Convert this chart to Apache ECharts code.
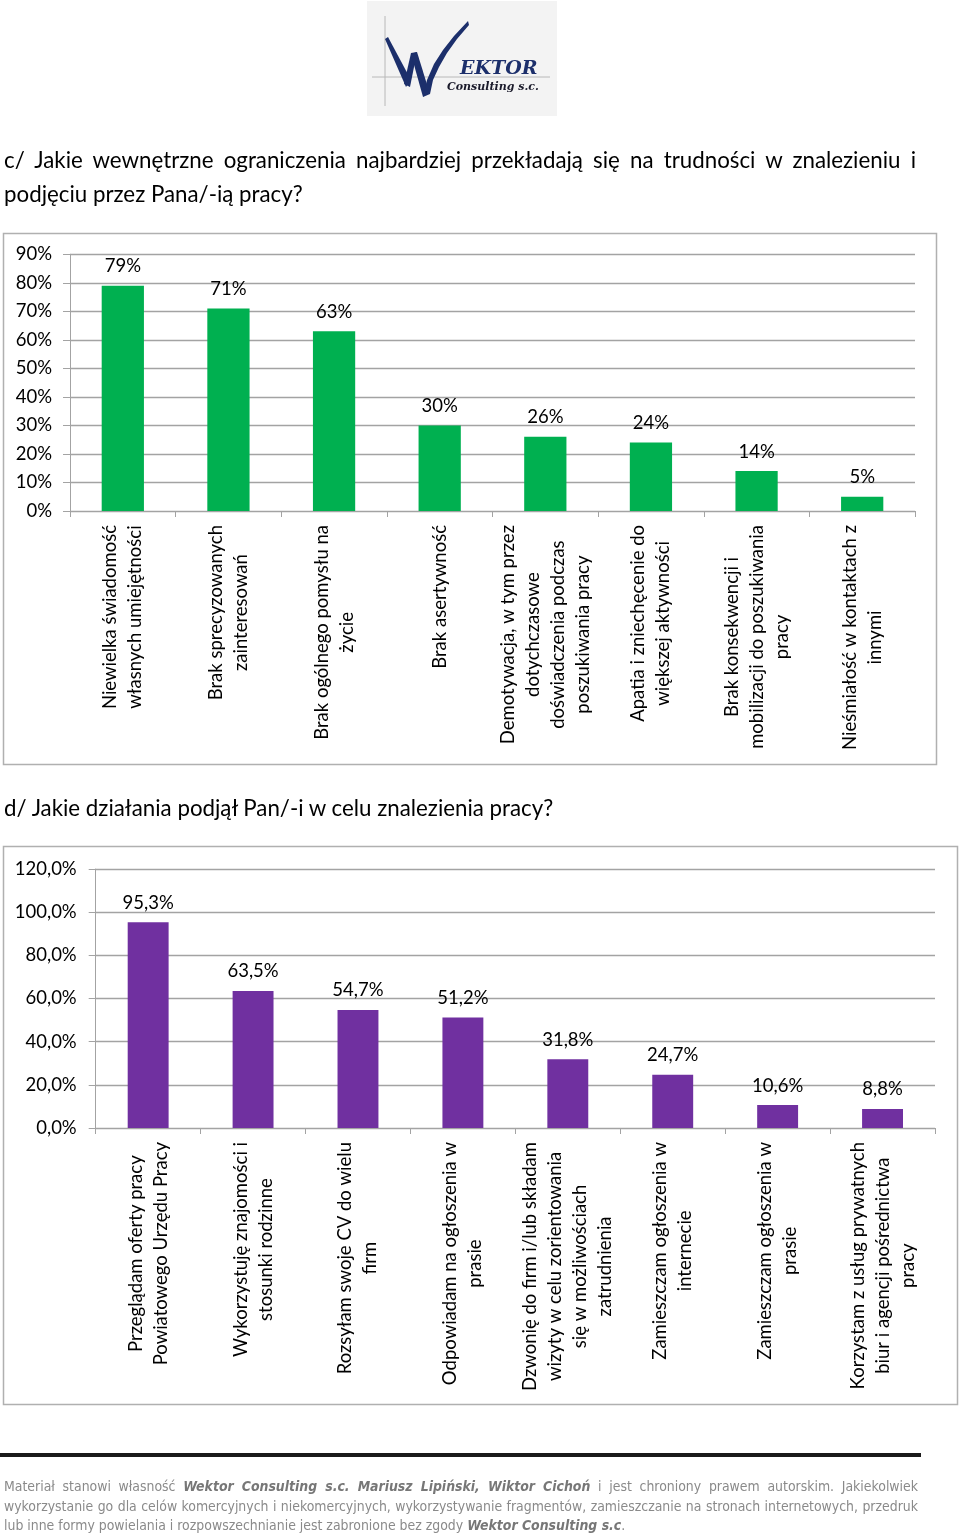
<!DOCTYPE html>
<html>
<head>
<meta charset="utf-8">
<script src="https://cdn.jsdelivr.net/npm/echarts@6/dist/echarts.min.js"></script>
<style>
  html, body { margin: 0; padding: 0; background: #fff; }
  #page { position: relative; width: 960px; height: 1537px; overflow: hidden; }
  #chart { position: absolute; left: 0; top: 0; width: 960px; height: 1537px; }
  .t { position: absolute; font-family: Lato, "Open Sans", sans-serif; color: #000; white-space: nowrap; }
  .just { text-align: justify; text-align-last: justify; white-space: normal; }
  .foot { position: absolute; left: 4px; width: 914px; font-family: "Liberation Sans Narrow", "DejaVu Sans Condensed", sans-serif; font-size: 13.9px; color: #8a8a8a; line-height: 19.5px; }
  .foot b { font-style: italic; color: #777; }
</style>
</head>
<body>
<div id="page">
  <div id="chart"></div>
  <div class="t just" style="left:4px; top:145px; width:912px; font-size:22.3px; line-height:30px;">c/ Jakie wewnętrzne ograniczenia najbardziej przekładają się na trudności w znalezieniu i</div>
  <div class="t" style="left:4px; top:179px; font-size:22.3px; line-height:30px;">podjęciu przez Pana/-ią pracy?</div>
  <div class="t" style="left:4px; top:793px; font-size:22.3px; line-height:30px;">d/ Jakie działania podjął Pan/-i w celu znalezienia pracy?</div>
  <div class="foot just" style="top:1477px;">Materiał stanowi własność <b>Wektor Consulting s.c. Mariusz Lipiński, Wiktor Cichoń</b> i jest chroniony prawem autorskim. Jakiekolwiek</div>
  <div class="foot just" style="top:1496.5px;">wykorzystanie go dla celów komercyjnych i niekomercyjnych, wykorzystywanie fragmentów, zamieszczanie na stronach internetowych, przedruk</div>
  <div class="foot" style="top:1516px; white-space:nowrap;">lub inne formy powielania i rozpowszechnianie jest zabronione bez zgody <b>Wektor Consulting s.c</b>.</div>
</div>
<script>
// ---- Data: chart c/ ----
const categoriesC = [
  "Niewielka świadomość\nwłasnych umiejętności",
  "Brak sprecyzowanych\nzainteresowań",
  "Brak ogólnego pomysłu na\nżycie",
  "Brak asertywność",
  "Demotywacja, w tym przez\ndotychczasowe\ndoświadczenia podczas\nposzukiwania pracy",
  "Apatia i zniechęcenie do\nwiększej aktywności",
  "Brak konsekwencji i\nmobilizacji do poszukiwania\npracy",
  "Nieśmiałość w kontaktach z\ninnymi"
];
const valuesC = [79, 71, 63, 30, 26, 24, 14, 5];
const yMaxC = 90, yStepC = 10;

// ---- Data: chart d/ ----
const categoriesD = [
  "Przeglądam oferty pracy\nPowiatowego Urzędu Pracy",
  "Wykorzystuję znajomości i\nstosunki rodzinne",
  "Rozsyłam swoje CV do wielu\nfirm",
  "Odpowiadam na ogłoszenia w\nprasie",
  "Dzwonię do firm i/lub składam\nwizyty w celu zorientowania\nsię w możliwościach\nzatrudnienia",
  "Zamieszczam ogłoszenia w\ninternecie",
  "Zamieszczam ogłoszenia w\nprasie",
  "Korzystam z usług prywatnych\nbiur i agencji pośrednictwa\npracy"
];
const valuesD = [95.3, 63.5, 54.7, 51.2, 31.8, 24.7, 10.6, 8.8];
const yMaxD = 120, yStepD = 20;

const FONT = 'Lato';
const FS = 18.5;
const GRID_COLOR = '#a3a3a3';
const fmtComma = v => v.toFixed(1).replace('.', ',') + '%';
const catFormatter = v => v.split('\n').map(l => '{c|' + l + '}').join('\n');
const richC = { c: { align: 'center', fontSize: FS, lineHeight: 25, fontFamily: FONT, color: '#000' } };

function catAxis(gridIndex, data) {
  return {
    type: 'category', gridIndex, data,
    axisLine: { show: true, lineStyle: { color: GRID_COLOR, width: 1 } },
    axisTick: { show: true, length: 6, alignWithLabel: false, lineStyle: { color: GRID_COLOR } },
    axisLabel: { interval: 0, rotate: 90, margin: 14, formatter: catFormatter, rich: richC, fontSize: FS, fontFamily: FONT, color: '#000' },
    splitLine: { show: false }
  };
}
function valAxis(gridIndex, max, step, fmt, margin) {
  return {
    type: 'value', gridIndex, min: 0, max, interval: step,
    axisLine: { show: true, lineStyle: { color: GRID_COLOR, width: 1 } },
    axisTick: { show: true, length: 7, lineStyle: { color: GRID_COLOR } },
    axisLabel: { formatter: fmt, fontSize: FS, fontFamily: FONT, color: '#000', margin },
    splitLine: { show: true, lineStyle: { color: GRID_COLOR, width: 1.3 } }
  };
}

const logoColor = '#1c2f6b';
const option = {
  animation: false,
  grid: [
    { left: 70, top: 254.3, width: 845, height: 256.7, outerBoundsMode: 'none', containLabel: false },
    { left: 95.7, top: 869, width: 839.3, height: 259, outerBoundsMode: 'none', containLabel: false }
  ],
  xAxis: [catAxis(0, categoriesC), catAxis(1, categoriesD)],
  yAxis: [
    valAxis(0, yMaxC, yStepC, v => v + '%', 18),
    valAxis(1, yMaxD, yStepD, fmtComma, 19)
  ],
  series: [
    {
      type: 'bar', xAxisIndex: 0, yAxisIndex: 0, data: valuesC, barWidth: '40%',
      itemStyle: { color: '#00b050' },
      label: { show: true, position: 'top', distance: 10, formatter: p => p.value + '%', fontSize: FS, fontFamily: FONT, color: '#000' }
    },
    {
      type: 'bar', xAxisIndex: 1, yAxisIndex: 1, data: valuesD, barWidth: '39%',
      itemStyle: { color: '#7030a0' },
      label: { show: true, position: 'top', distance: 10, formatter: p => fmtComma(p.value), fontSize: FS, fontFamily: FONT, color: '#000' }
    }
  ],
  graphic: [
    // chart frames
    { type: 'rect', silent: true, z: -10, shape: { x: 3.5, y: 233.5, width: 933, height: 531 }, style: { fill: 'none', stroke: '#b0b0b0', lineWidth: 1.5 } },
    { type: 'rect', silent: true, z: -10, shape: { x: 3.5, y: 846.5, width: 954, height: 558 }, style: { fill: 'none', stroke: '#b0b0b0', lineWidth: 1.5 } },
    // footer rule
    { type: 'rect', silent: true, shape: { x: 0, y: 1453, width: 921, height: 4 }, style: { fill: '#1a1a1a' } },
    // logo
    { type: 'rect', silent: true, z: -20, shape: { x: 367, y: 1, width: 190, height: 115 }, style: { fill: '#f3f3f3' } },
    { type: 'line', silent: true, shape: { x1: 372, y1: 77, x2: 550, y2: 77 }, style: { stroke: '#b8b8b8', lineWidth: 1 } },
    { type: 'line', silent: true, shape: { x1: 385, y1: 16, x2: 385, y2: 106 }, style: { stroke: '#b8b8b8', lineWidth: 1 } },
    { type: 'polygon', silent: true, shape: { points: [[385, 39], [388, 37], [411, 80], [406, 87]] }, style: { fill: logoColor } },
    { type: 'polygon', silent: true, shape: { points: [[404, 84], [411, 53], [417, 52], [410, 87]] }, style: { fill: logoColor } },
    { type: 'polygon', silent: true, shape: { points: [[411, 54], [417, 52], [429, 91], [423, 97]] }, style: { fill: logoColor } },
    { type: 'polygon', silent: true, shape: { points: [[423, 97], [427, 80], [434, 64], [443, 50], [454, 36], [468, 21], [469, 25], [457, 39], [447, 53], [439, 67], [433, 80], [430, 94]] }, style: { fill: logoColor } },
    { type: 'text', silent: true, style: { x: 460, y: 79, text: 'EKTOR', font: 'italic bold 19px "DejaVu Serif", serif', fill: logoColor, textVerticalAlign: 'bottom' } },
    { type: 'text', silent: true, style: { x: 447, y: 93, text: 'Consulting s.c.', font: 'italic bold 11px "DejaVu Serif", serif', fill: '#1a1a2a', textVerticalAlign: 'bottom' } }
  ]
};

const chart = echarts.init(document.getElementById('chart'), null, { renderer: 'canvas' });
chart.setOption(option);
</script>
</body>
</html>
